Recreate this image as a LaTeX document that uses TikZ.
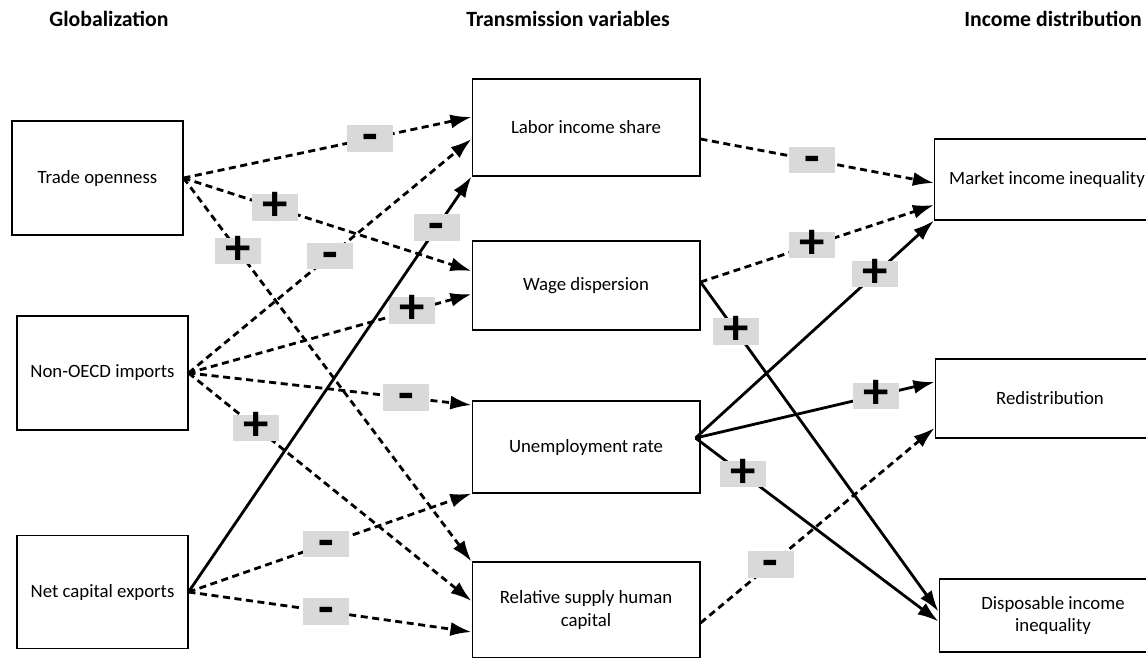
\documentclass[tikz,border=0pt]{standalone}
\usepackage{fontspec}
\setmainfont{Carlito}
\usetikzlibrary{arrows.meta}

\tikzset{
  box/.style={draw, line width=0.6pt, align=center, inner sep=0pt, font=\fontsize{10.7}{13}\selectfont},
  head/.style={font=\fontsize{12.4}{15}\selectfont\bfseries},
  sgn/.style={fill=black!15, inner sep=0pt, minimum width=0.92cm, minimum height=0.52cm,
    text height=15pt, text depth=0pt, font=\fontsize{29}{29}\selectfont\bfseries},
  solidarr/.style={line width=1.6pt, -{Latex[length=12pt,width=8pt]}},
  dasharr/.style={solidarr, dash pattern=on 4pt off 2.6pt},
}

\begin{document}
\begin{tikzpicture}[x=0.02cm, y=-0.02cm]
\useasboundingbox (0,0) rectangle (1146,657);

% headings
\node[head] (hglob) at (109,19) {Globalization};
\node[head] (htrans) at (568,19) {Transmission variables};
\node[head] (hinc) at (1053,19) {Income distribution};

% globalization
\node[box, minimum width=3.42cm, minimum height=2.28cm] (trade) at (97.5,178) {Trade openness};
\node[box, minimum width=3.42cm, minimum height=2.28cm] (imp) at (102.5,373) {Non-OECD imports};
\node[box, minimum width=3.42cm, minimum height=2.26cm] (cap) at (102.5,592) {Net capital exports};

% transmission variables
\node[box, minimum width=4.56cm, minimum height=1.94cm] (lab) at (586,127.5) {Labor income share};
\node[box, minimum width=4.56cm, minimum height=1.78cm] (wage) at (586,285.5) {Wage dispersion};
\node[box, minimum width=4.56cm, minimum height=1.84cm] (unemp) at (586,447) {Unemployment rate};
\node[box, minimum width=4.56cm, minimum height=1.92cm] (rel) at (586,610) {Relative supply human\\capital};

% income distribution
\node[box, minimum width=4.5cm, minimum height=1.62cm] (mkt) at (1047,179.5) {Market income inequality};
\node[box, minimum width=4.6cm, minimum height=1.58cm] (red) at (1050,398.5) {Redistribution};
\node[box, minimum width=4.56cm, minimum height=1.46cm] (disp) at (1053,615.5) {Disposable income\\inequality};

% globalization -> transmission
\draw[dasharr] (trade.east) -- node[sgn, pos=0.647] {-} ([yshift=0.21cm]lab.west);
\draw[dasharr] (trade.east) -- node[sgn, pos=0.318] {+} ([yshift=0.29cm]wage.west);
\draw[dasharr] (trade.east) -- node[sgn, pos=0.19] {+} (rel.north west);
\draw[dasharr] (imp.east) -- node[sgn, pos=0.5] {-} ([yshift=-0.23cm]lab.west);
\draw[dasharr] (imp.east) -- node[sgn, pos=0.79] {+} ([yshift=-0.17cm]wage.west);
\draw[dasharr] (imp.east) -- node[sgn, pos=0.77] {-} ([yshift=0.84cm]unemp.west);
\draw[dasharr] (imp.east) -- node[sgn, pos=0.24] {+} ([yshift=0.18cm]rel.west);
\draw[dasharr] (cap.east) -- node[sgn, pos=0.486] {-} (unemp.south west);
\draw[dasharr] (cap.east) -- node[sgn, pos=0.486] {-} ([yshift=-0.44cm]rel.west);
\draw[solidarr] (cap.east) -- node[sgn, pos=0.877] {-} (lab.south west);

% transmission -> income distribution
\draw[dasharr] ([yshift=-0.23cm]lab.east) -- node[sgn, pos=0.477] {-} ([yshift=-0.07cm]mkt.west);
\draw[dasharr] ([yshift=0.07cm]wage.east) -- node[sgn, pos=0.477] {+} ([yshift=-0.51cm]mkt.west);
\draw[dasharr] ([yshift=-0.26cm]rel.east) -- node[sgn, pos=0.3] {-} ([yshift=-0.59cm]red.west);
\draw[solidarr] ([yshift=0.07cm]wage.east) -- node[sgn, pos=0.15] {+} ([yshift=0.08cm]disp.west);
\draw[solidarr] ([xshift=-0.1cm,yshift=0.18cm]unemp.east) -- node[sgn, pos=0.754] {+} (mkt.south west);
\draw[solidarr] ([xshift=-0.1cm,yshift=0.18cm]unemp.east) -- node[sgn, pos=0.754] {+} ([yshift=0.33cm]red.west);
\draw[solidarr] ([xshift=-0.1cm,yshift=0.18cm]unemp.east) -- node[sgn, pos=0.197] {+} ([yshift=-0.12cm]disp.west);
\end{tikzpicture}
\end{document}
